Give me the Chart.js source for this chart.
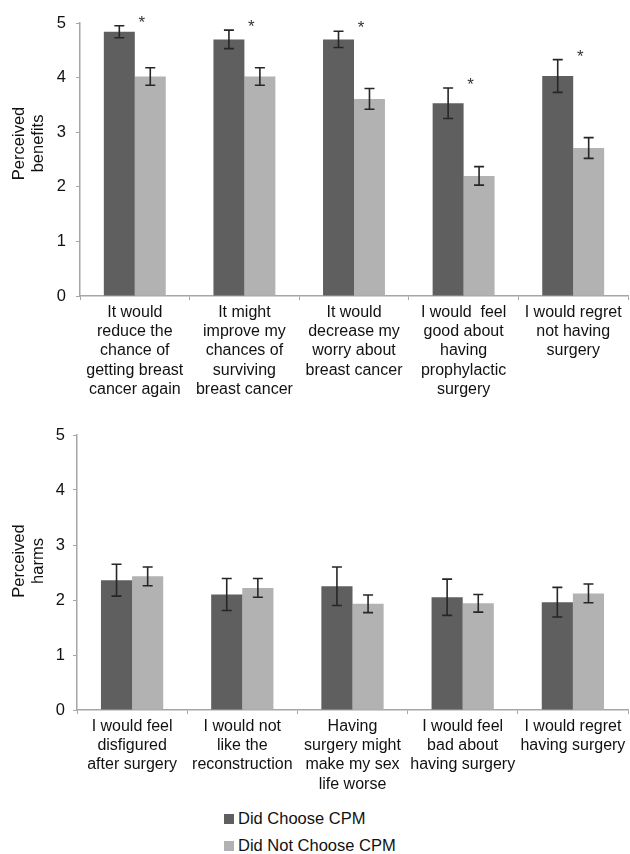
<!DOCTYPE html>
<html>
<head>
<meta charset="utf-8">
<script src="https://cdn.jsdelivr.net/npm/chart.js@4"></script>
<style>
  body { margin: 0; background: #fff; font-family: "Liberation Sans", Arial, sans-serif; }
  #benefits { position: absolute; left: 0; top: 0; }
  #harms { position: absolute; left: 0; top: 410px; }
  #legend { position: absolute; left: 224px; top: 805px; font-size: 16.5px; color: #111; }
  .item { height: 27px; display: flex; align-items: center; }
  .box { width: 10px; height: 10px; margin-right: 4px; }
</style>
</head>
<body>
<canvas id="benefits" width="630" height="405"></canvas>
<canvas id="harms" width="630" height="385"></canvas>
<div id="legend"></div>
<script>
// data
const seriesNames = ["Did Choose CPM", "Did Not Choose CPM"];
const seriesColors = ["#5f5f5f", "#b2b2b2"];
const yTicks = [0, 1, 2, 3, 4, 5];

const benefitLabels = [
    ["It would", "reduce the", "chance of", "getting breast", "cancer again"],
    ["It might", "improve my", "chances of", "surviving", "breast cancer"],
    ["It would", "decrease my", "worry about", "breast cancer"],
    ["I would  feel", "good about", "having", "prophylactic", "surgery"],
    ["I would regret", "not having", "surgery"]
];
const benefitChose = [4.84, 4.70, 4.70, 3.53, 4.03];
const benefitChoseErr = [0.11, 0.17, 0.15, 0.28, 0.30];
const benefitNot = [4.02, 4.02, 3.61, 2.20, 2.71];
const benefitNotErr = [0.16, 0.16, 0.19, 0.17, 0.19];
const benefitStars = [true, true, true, true, true];

const harmLabels = [
    ["I would feel", "disfigured", "after surgery"],
    ["I would not", "like the", "reconstruction"],
    ["Having", "surgery might", "make my sex", "life worse"],
    ["I would feel", "bad about", "having surgery"],
    ["I would regret", "having surgery"]
];
const harmChose = [2.36, 2.10, 2.25, 2.05, 1.96];
const harmChoseErr = [0.29, 0.29, 0.35, 0.33, 0.27];
const harmNot = [2.43, 2.22, 1.93, 1.94, 2.12];
const harmNotErr = [0.17, 0.17, 0.16, 0.16, 0.17];
const harmStars = [false, false, false, false, false];

// error bars + significance stars
const errorBars = {
    id: "errorBars",
    afterDatasetsDraw(chart) {
        const ctx = chart.ctx;
        const y = chart.scales.y;
        ctx.save();
        ctx.strokeStyle = "#262626";
        ctx.lineWidth = 1.6;
        chart.data.datasets.forEach((ds, di) => {
            chart.getDatasetMeta(di).data.forEach((bar, i) => {
                const top = y.getPixelForValue(ds.data[i] + ds.errors[i]);
                const bot = y.getPixelForValue(ds.data[i] - ds.errors[i]);
                ctx.beginPath();
                ctx.moveTo(bar.x, top); ctx.lineTo(bar.x, bot);
                ctx.moveTo(bar.x - 5, top); ctx.lineTo(bar.x + 5, top);
                ctx.moveTo(bar.x - 5, bot); ctx.lineTo(bar.x + 5, bot);
                ctx.stroke();
            });
        });
        const stars = chart.config.options.stars || [];
        const ds0 = chart.data.datasets[0];
        ctx.fillStyle = "#333";
        ctx.font = "17px 'Liberation Sans', Arial, sans-serif";
        ctx.textAlign = "center";
        ctx.textBaseline = "alphabetic";
        chart.getDatasetMeta(0).data.forEach((bar, i) => {
            if (!stars[i]) return;
            const cy = y.getPixelForValue(ds0.data[i] + ds0.errors[i]) - 8;
            ctx.fillText("*", bar.x + bar.width / 2 + 7, cy + 10);
        });
        ctx.restore();
    }
};

function makeChart(id, labels, chose, choseErr, not, notErr, stars, title, yWidth, xHeight, padTop, tickPad) {
    const axisColor = "#a6a6a6";
    return new Chart(document.getElementById(id), {
        type: "bar",
        data: {
            labels: labels,
            datasets: [
                { label: seriesNames[0], data: chose, errors: choseErr, backgroundColor: seriesColors[0],
                  categoryPercentage: 0.565, barPercentage: 1, borderWidth: 0 },
                { label: seriesNames[1], data: not, errors: notErr, backgroundColor: seriesColors[1],
                  categoryPercentage: 0.565, barPercentage: 1, borderWidth: 0 }
            ]
        },
        options: {
            responsive: false,
            animation: false,
            stars: stars,
            layout: { padding: { top: padTop, right: 2, left: 0, bottom: 0 } },
            plugins: { legend: { display: false }, tooltip: { enabled: false } },
            scales: {
                x: {
                    grid: { offset: true, drawOnChartArea: false, tickLength: 4, color: axisColor },
                    border: { color: axisColor, width: 1.5 },
                    ticks: { color: "#111", font: { family: "'Liberation Sans', Arial", size: 16, lineHeight: 1.2 },
                             padding: 3, maxRotation: 0, autoSkip: false },
                    afterFit: s => { s.height = xHeight; }
                },
                y: {
                    min: 0, max: 5,
                    afterBuildTicks: s => { s.ticks = yTicks.map(v => ({ value: v })); },
                    grid: { drawOnChartArea: false, tickLength: 4, color: axisColor },
                    border: { color: axisColor, width: 1.5 },
                    ticks: { color: "#111", font: { family: "'Liberation Sans', Arial", size: 16.5 }, padding: tickPad },
                    title: { display: true, text: title, color: "#111",
                             font: { family: "'Liberation Sans', Arial", size: 16.5, lineHeight: 1.15 },
                             padding: { top: 10, bottom: 0 } },
                    afterFit: s => { s.width = yWidth; }
                }
            }
        },
        plugins: [errorBars]
    });
}

// leading spaces nudge the rotated title a little above the axis middle, as in the figure
makeChart("benefits", benefitLabels, benefitChose, benefitChoseErr, benefitNot, benefitNotErr,
    benefitStars, ["       Perceived", "       benefits"], 80, 109, 23, 10);
makeChart("harms", harmLabels, harmChose, harmChoseErr, harmNot, harmNotErr,
    harmStars, ["     Perceived", "     harms"], 77, 85, 25, 8);

// legend
const legend = document.getElementById("legend");
seriesNames.forEach((name, i) => {
    const row = document.createElement("div");
    row.className = "item";
    row.innerHTML = '<span class="box" style="background:' + seriesColors[i] + '"></span>' + name;
    legend.appendChild(row);
});
</script>
</body>
</html>
